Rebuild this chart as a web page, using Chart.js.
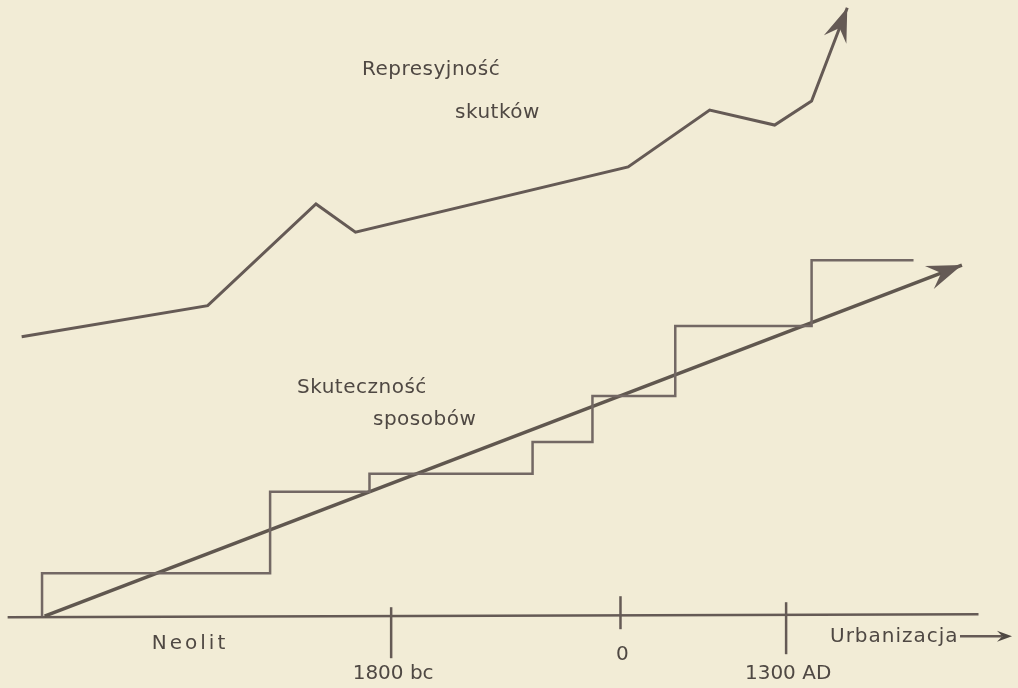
<!DOCTYPE html>
<html>
<head>
<meta charset="utf-8">
<script src="https://cdn.jsdelivr.net/npm/chart.js@4/dist/chart.umd.min.js"></script>
<style>
  body { margin: 0; background: #f2ecd6; }
  #wrap { width: 1018px; height: 688px; }
</style>
</head>
<body>
<div id="wrap"><canvas id="myChart" width="1018" height="688"></canvas></div>
<script>
// years on x, an unnamed "level" on y
const repYears = [-4700, -3240, -2390, -2080, 60, 700, 1210, 1500, 1780];
const repLevels = [46.7, 51.9, 68.9, 64.2, 75.1, 84.6, 82.1, 86.1, 101.7];

const stepYears = [-4540, -2750, -1970, -690, -220, 430, 1500, 2300];
const stepLevels = [0, 7.2, 20.8, 23.8, 29.1, 36.8, 48.5, 59.5];

const trendYears = [-4520, 2680];
const trendLevels = [0, 58.7];

const axisYears = [-4810, 2810];
const tickYears = [-1800, 0, 1300];
const tickLabels = ['1800 bc', '0', '1300 AD'];

const ink = '#655a55';
const textInk = '#4f4843';

const toPoints = (xs, ys) => xs.map((x, i) => ({ x: x, y: ys[i] }));

function arrowHead(ctx, x0, y0, x1, y1, len, half) {
    const a = Math.atan2(y1 - y0, x1 - x0);
    ctx.beginPath();
    ctx.moveTo(x1, y1);
    ctx.lineTo(x1 - len * Math.cos(a - half), y1 - len * Math.sin(a - half));
    ctx.lineTo(x1 - len * 0.6 * Math.cos(a), y1 - len * 0.6 * Math.sin(a));
    ctx.lineTo(x1 - len * Math.cos(a + half), y1 - len * Math.sin(a + half));
    ctx.closePath();
    ctx.fill();
}

const sketch = {
    id: 'sketch',
    beforeDatasetsDraw(chart) {
        const ctx = chart.ctx;
        const x = chart.scales.x, y = chart.scales.y;
        const y0 = y.getPixelForValue(0);
        ctx.save();
        ctx.strokeStyle = ink;
        ctx.lineWidth = 2.5;
        ctx.beginPath();
        ctx.moveTo(x.getPixelForValue(axisYears[0]), y0 + 1);
        ctx.lineTo(x.getPixelForValue(axisYears[1]), y0 - 2);
        ctx.stroke();
        // hand-drawn ticks, not all the same length
        const up = [9, 20, 14], down = [42, 13, 38];
        tickYears.forEach((t, i) => {
            const px = x.getPixelForValue(t);
            ctx.beginPath();
            ctx.moveTo(px, y0 - up[i]);
            ctx.lineTo(px, y0 + down[i]);
            ctx.stroke();
        });
        ctx.restore();
    },
    afterDatasetsDraw(chart) {
        const ctx = chart.ctx;
        const x = chart.scales.x, y = chart.scales.y;
        ctx.save();
        ctx.fillStyle = ink;
        let m = chart.getDatasetMeta(0).data;
        let a = m[m.length - 2], b = m[m.length - 1];
        arrowHead(ctx, a.x, a.y, b.x, b.y, 36, 0.34);
        m = chart.getDatasetMeta(2).data;
        arrowHead(ctx, m[0].x, m[0].y, m[1].x, m[1].y, 37, 0.34);

        ctx.fillStyle = textInk;
        ctx.font = '20px "DejaVu Sans"';
        ctx.textBaseline = 'middle';
        ctx.letterSpacing = '0.5px';
        ctx.textAlign = 'left';
        ctx.fillText('Represyjność', 362, 70);
        ctx.fillText('skutków', 455, 113);
        ctx.fillText('Skuteczność', 297, 388);
        ctx.fillText('sposobów', 373, 420);

        const y0 = y.getPixelForValue(0);
        ctx.textAlign = 'center';
        ctx.letterSpacing = '3px';
        ctx.fillText('Neolit', 190, y0 + 28);
        ctx.letterSpacing = '0px';
        const drop = [58, 39, 58];
        tickYears.forEach((t, i) => {
            ctx.fillText(tickLabels[i], x.getPixelForValue(t) + 2, y0 + drop[i]);
        });
        ctx.textAlign = 'left';
        ctx.letterSpacing = '1px';
        ctx.fillText('Urbanizacja', 830, y0 + 21);
        ctx.strokeStyle = ink;
        ctx.lineWidth = 2.5;
        ctx.beginPath();
        ctx.moveTo(960, y0 + 20);
        ctx.lineTo(1002, y0 + 20);
        ctx.stroke();
        arrowHead(ctx, 960, y0 + 20, 1012, y0 + 20, 16, 0.35);
        ctx.restore();
    }
};

new Chart(document.getElementById('myChart'), {
    type: 'scatter',
    data: {
        datasets: [{
            label: 'Represyjność skutków',
            data: toPoints(repYears, repLevels),
            showLine: true,
            borderColor: ink,
            borderWidth: 3,
            pointRadius: 0
        }, {
            label: 'Skuteczność sposobów',
            data: toPoints(stepYears, stepLevels),
            showLine: true,
            stepped: 'after',
            borderColor: '#736864',
            borderWidth: 2.5,
            pointRadius: 0
        }, {
            label: 'trend',
            data: toPoints(trendYears, trendLevels),
            showLine: true,
            borderColor: '#60574f',
            borderWidth: 3.5,
            pointRadius: 0
        }]
    },
    options: {
        responsive: false,
        animation: false,
        layout: { padding: 0 },
        scales: {
            x: { type: 'linear', min: -4870, max: 3120, display: false },
            y: { type: 'linear', min: -12, max: 103, display: false }
        },
        plugins: {
            legend: { display: false },
            tooltip: { enabled: false }
        }
    },
    plugins: [sketch]
});
</script>
</body>
</html>
